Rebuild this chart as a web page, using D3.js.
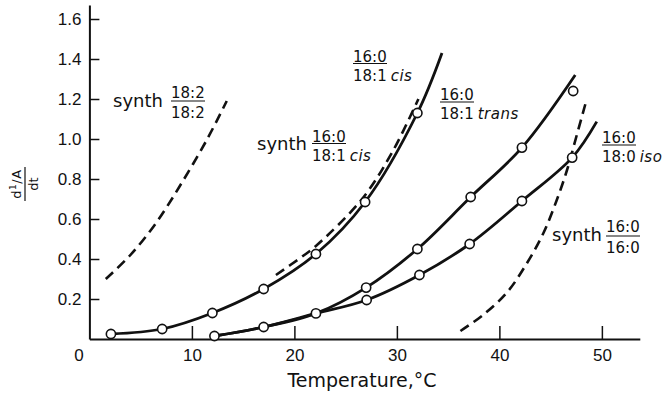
<!DOCTYPE html>
<html>
<head>
<meta charset="utf-8">
<script src="https://cdn.jsdelivr.net/npm/d3@7"></script>
<style>
  body { margin: 0; background: #fff; }
  svg { display: block; font-family: "DejaVu Sans", sans-serif; }
  .axis path, .axis line { stroke: #111; }
  .axis text { fill: #111; }
</style>
</head>
<body>
<svg width="665" height="394"></svg>
<script>
// values: [temperature °C, d(1/A)/dt]
const xTicks = [0, 10, 20, 30, 40, 50]
const yTicks = [0.2, 0.4, 0.6, 0.8, 1.0, 1.2, 1.4, 1.6]

const cisObs = [[2.1, 0.025], [7.1, 0.05], [12.0, 0.13], [17.0, 0.25], [22.1, 0.425], [26.9, 0.685], [32.0, 1.13]]
const cisLine = [[2.1, 0.025], [7.1, 0.05], [12.0, 0.13], [17.0, 0.25], [22.1, 0.425], [26.9, 0.685], [32.0, 1.13], [34.4, 1.43]]

const transObs = [[12.2, 0.015], [17.0, 0.06], [22.1, 0.128], [27.0, 0.257], [32.0, 0.45], [37.2, 0.71], [42.2, 0.957], [47.2, 1.24]]
const transLine = [[12.2, 0.015], [17.0, 0.06], [22.1, 0.128], [27.0, 0.257], [32.0, 0.45], [37.2, 0.71], [42.2, 0.957], [47.4, 1.32]]

const isoObs = [[27.05, 0.195], [32.2, 0.32], [37.1, 0.475], [42.2, 0.69], [47.1, 0.907]]
const isoLine = [[12.2, 0.015], [17.0, 0.06], [22.1, 0.128], [27.05, 0.195], [32.2, 0.32], [37.1, 0.475], [42.2, 0.69], [47.1, 0.907], [49.5, 1.087]]

const synth182 = [[1.6, 0.30], [4.0, 0.42], [6.5, 0.58], [9.0, 0.78], [11.5, 1.0], [13.4, 1.19]]
const synthCis = [[18.2, 0.32], [20.7, 0.41], [22.1, 0.465], [26.6, 0.70], [29.5, 0.93], [32.1, 1.20]]
const synth160 = [[36.2, 0.04], [38.4, 0.12], [40.7, 0.23], [42.7, 0.38], [44.3, 0.53], [45.6, 0.695], [46.6, 0.845], [47.5, 1.01], [48.5, 1.195]]

let svg = d3.select("svg")

let x = d3.scaleLinear().domain([0, 53.7]).range([89.4, 639.8])
let y = d3.scaleLinear().domain([0, 1.67]).range([339, 5])

// axes, ticks pointing inwards
let xAxis = svg.append("g")
    .attr("class", "axis")
    .attr("transform", `translate(0, ${y(0)})`)
    .call(d3.axisBottom(x).tickValues(xTicks).tickSize(-13).tickSizeOuter(0).tickPadding(10))
xAxis.select(".domain").attr("stroke-width", 2)
xAxis.selectAll(".tick line").attr("stroke-width", 1.5).filter(d => d === 0).remove()
xAxis.selectAll(".tick text").attr("font-size", 17).attr("font-family", null)
    .filter(d => d === 0).attr("dx", -11)

let yAxis = svg.append("g")
    .attr("class", "axis")
    .attr("transform", `translate(${x(0)}, 0)`)
    .call(d3.axisLeft(y).tickValues(yTicks).tickSize(-10).tickSizeOuter(0).tickPadding(8)
      .tickFormat(d3.format(".1f")))
yAxis.select(".domain").attr("stroke-width", 2)
yAxis.selectAll(".tick line").attr("stroke-width", 1.5)
yAxis.selectAll(".tick text").attr("font-size", 17).attr("font-family", null)

svg.append("text")
    .attr("x", 362)
    .attr("y", 387)
    .attr("text-anchor", "middle")
    .attr("font-size", 19)
    .attr("fill", "#111")
    .text("Temperature,°C")

// y label: d(1/A)/dt as a rotated fraction
let yl = svg.append("g").attr("transform", "translate(25, 184) rotate(-90)")
let num = yl.append("text").attr("y", -4).attr("text-anchor", "middle").attr("font-size", 13)
    .attr("letter-spacing", 0.5).attr("fill", "#111")
num.append("tspan").text("d")
num.append("tspan").attr("font-size", 9).attr("dy", -5).text("1")
num.append("tspan").attr("dy", 5).text("/A")
yl.append("line").attr("x1", -17).attr("x2", 17).attr("stroke", "#111").attr("stroke-width", 1.2)
yl.append("text").attr("y", 13).attr("text-anchor", "middle").attr("font-size", 13).attr("fill", "#111").text("dt")

// curves
let line = d3.line()
    .x(d => x(d[0]))
    .y(d => y(d[1]))
    .curve(d3.curveCatmullRom.alpha(0.5))

let solid = [cisLine, transLine, isoLine]
let dashed = [synth182, synthCis, synth160]

svg.append("g")
  .selectAll("path")
  .data(dashed)
  .enter().append("path")
    .attr("d", line)
    .attr("fill", "none")
    .attr("stroke", "#111")
    .attr("stroke-width", 2.6)
    .attr("stroke-dasharray", "10,6")

svg.append("g")
  .selectAll("path")
  .data(solid)
  .enter().append("path")
    .attr("d", line)
    .attr("fill", "none")
    .attr("stroke", "#111")
    .attr("stroke-width", 2.8)

svg.append("g")
  .selectAll("circle")
  .data(cisObs.concat(transObs, isoObs))
  .enter().append("circle")
    .attr("cx", d => x(d[0]))
    .attr("cy", d => y(d[1]))
    .attr("r", 4.6)
    .attr("fill", "#fff")
    .attr("stroke", "#111")
    .attr("stroke-width", 1.6)

// annotations: "synth" word + stacked fraction
function fraction(px, bar, top, bottom, italic, numGap) {
  let g = svg.append("g").attr("fill", "#111").attr("font-size", 15)
  g.append("text").attr("x", px).attr("y", bar - (numGap || 2)).text(top)
  g.append("line")
      .attr("x1", px).attr("x2", px + 34)
      .attr("y1", bar).attr("y2", bar)
      .attr("stroke", "#111").attr("stroke-width", 1.2)
  let t = g.append("text").attr("x", px).attr("y", bar + 17)
  t.append("tspan").text(bottom)
  if (italic) t.append("tspan").attr("dx", 4).attr("font-style", "italic").attr("letter-spacing", 0.5).text(italic)
}
function synth(px, base) {
  svg.append("text").attr("x", px).attr("y", base).attr("font-size", 18).attr("fill", "#111").text("synth")
}

synth(113, 107)
fraction(171, 101, "18:2", "18:2", null, 3)

fraction(353, 63.5, "16:0", "18:1", "cis")

synth(257, 150)
fraction(312, 143.5, "16:0", "18:1", "cis")

fraction(440, 102, "16:0", "18:1", "trans")

fraction(602, 145, "16:0", "18:0", "iso")

synth(552, 241)
fraction(606, 236, "16:0", "16:0", null, 4)
</script>
</body>
</html>
